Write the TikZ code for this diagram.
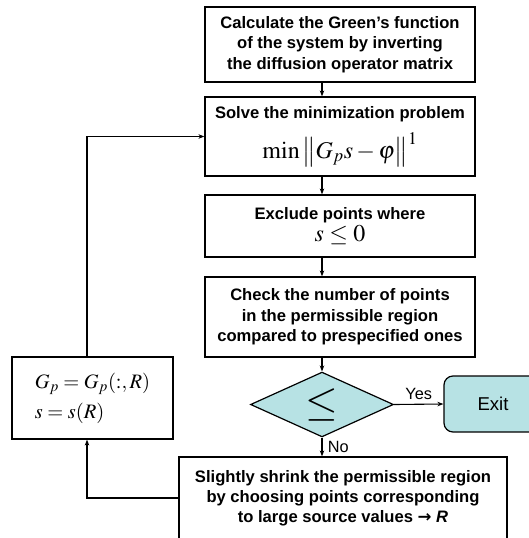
\documentclass[tikz,border=0pt]{standalone}
\usepackage{mathptmx}
\usepackage[no-math]{fontspec}
\setmainfont{Liberation Sans}
\newfontfamily\arrowfont{DejaVu Sans}
\usetikzlibrary{shapes.geometric,arrows.meta}
\definecolor{exitteal}{RGB}{183,226,228}
\tikzset{
  stepbox/.style={draw, line width=1.2pt, minimum width=270pt, align=center,
    font=\fontsize{16.6}{20.5}\selectfont\bfseries, inner sep=2pt},
  arrow/.style={-{Stealth[length=6pt,width=4.5pt]}, line width=1.1pt},
}

\begin{document}
\begin{tikzpicture}[x=1pt,y=-1pt]
\useasboundingbox (0,0) rectangle (528,538);
% column of x positions for the arrows
\coordinate (spine) at (322,0);
\coordinate (loop) at (87,0);

% Main steps
\node[stepbox, minimum height=75pt] (green) at (340,44.5)
  {Calculate the Green's function\\of the system by inverting\\the diffusion operator matrix};
\node[stepbox, minimum height=79pt] (solve) at (340,136.5)
  {Solve the minimization problem\\[10pt]
   {\fontsize{24}{24}\selectfont\mdseries $\min\left\|G_p s-\varphi\right\|^1$}};
\node[stepbox, minimum height=62pt] (exclude) at (340,226)
  {Exclude points where\\[1pt]{\fontsize{24}{24}\selectfont\mdseries $s\le 0$}};
\node[stepbox, minimum height=80pt] (check) at (340,317)
  {Check the number of points\\in the permissible region\\compared to prespecified ones};

% Decision and exit
\node[diamond, draw, line width=1.2pt, fill=exitteal, minimum width=143pt, minimum height=55pt,
  inner sep=0pt, font=\fontsize{42}{42}\selectfont] (test) at (322,404.5) {$\leq$};
\node[draw, line width=1.2pt, fill=exitteal, rounded corners=9pt, minimum width=98pt,
  minimum height=56pt, font=\fontsize{18.6}{20}\selectfont] (exit) at (493,404) {Exit};

% Update and shrink
\node[draw, line width=1.2pt, minimum width=161pt, minimum height=82pt, align=left,
  font=\fontsize{20.5}{30}\selectfont] (update) at (92.5,398)
  {$G_p=G_p(:,R)$\\$s=s(R)$};
\node[stepbox, minimum width=328pt, minimum height=82pt, font=\fontsize{16.6}{20}\selectfont\bfseries] (shrink) at (343,498)
  {Slightly shrink the permissible region\\by choosing points corresponding\\to large source values {\arrowfont →} \textit{R}};

% Connectors
\draw[arrow] (green.south -| spine) -- (solve.north -| spine);
\draw[arrow] (solve.south -| spine) -- (exclude.north -| spine);
\draw[arrow] (exclude.south -| spine) -- (check.north -| spine);
\draw[arrow] (check.south -| spine) -- (test.north);
\draw[arrow] (test.east) -- node[above=1pt, font=\fontsize{16.3}{18}\selectfont] {Yes} (exit.west);
\draw[arrow] (test.south) -- node[right=2pt, font=\fontsize{16.3}{18}\selectfont] {No} (shrink.north -| test.south);
\draw[arrow] (shrink.west) -| (loop |- update.south);
\draw[arrow] (loop |- update.north) |- (solve.west);
\end{tikzpicture}
\end{document}
